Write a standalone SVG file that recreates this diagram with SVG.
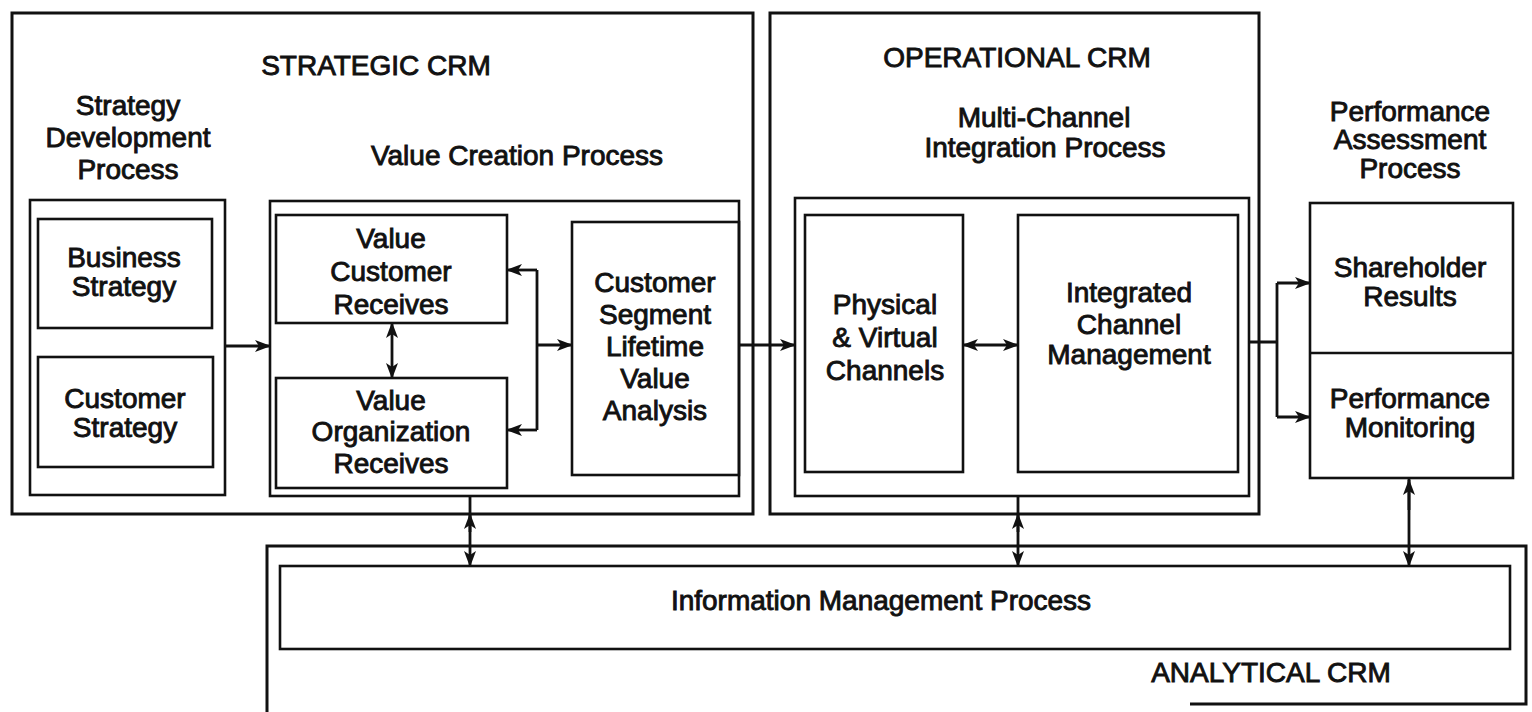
<svg xmlns="http://www.w3.org/2000/svg" width="1532" height="712" viewBox="0 0 1532 712">
  <style>
    .bg { fill: #ffffff; }
    .frame { fill: none; stroke: #111; stroke-width: 3; }
    .box { fill: none; stroke: #111; stroke-width: 2.6; }
    .wire { fill: none; stroke: #111; stroke-width: 2.8; }
    .t { font-family: "Liberation Sans", Arial, Helvetica, sans-serif; font-size: 28px; fill: #111; stroke: #111; stroke-width: 0.9; text-anchor: middle; }
  </style>
  <defs>
    <marker id="head" viewBox="0 0 16 12" refX="15" refY="6" markerWidth="16" markerHeight="12" markerUnits="userSpaceOnUse" orient="auto-start-reverse">
      <path d="M0,0 L16,6 L0,12 L4,6 Z" fill="#111"/>
    </marker>
  </defs>

  <rect class="bg" x="0" y="0" width="1532" height="712"/>

  <!-- Strategic CRM frame -->
  <g id="strategic-crm">
    <rect class="frame" x="12" y="13" width="741" height="501"/>
    <text class="t" x="376" y="75">STRATEGIC CRM</text>
  </g>

  <!-- Strategy development process -->
  <g id="strategy-development">
    <text class="t"><tspan x="128" y="115">Strategy</tspan><tspan x="128" y="147">Development</tspan><tspan x="128" y="179">Process</tspan></text>
    <rect class="box" x="30" y="200" width="195" height="295"/>
  </g>
  <g id="business-strategy">
    <rect class="box" x="38" y="219" width="174" height="109"/>
    <text class="t"><tspan x="124" y="267">Business</tspan><tspan x="124" y="296">Strategy</tspan></text>
  </g>
  <g id="customer-strategy">
    <rect class="box" x="38" y="357" width="175" height="110"/>
    <text class="t"><tspan x="125" y="408">Customer</tspan><tspan x="125" y="437">Strategy</tspan></text>
  </g>

  <!-- Value creation process -->
  <g id="value-creation">
    <text class="t" x="517" y="165">Value Creation Process</text>
    <rect class="box" x="270" y="201" width="469" height="295"/>
  </g>
  <g id="value-customer-receives">
    <rect class="box" x="276" y="215" width="231" height="108"/>
    <text class="t"><tspan x="391" y="248">Value</tspan><tspan x="391" y="281">Customer</tspan><tspan x="391" y="314">Receives</tspan></text>
  </g>
  <g id="value-organization-receives">
    <rect class="box" x="276" y="378" width="231" height="110"/>
    <text class="t"><tspan x="391" y="410">Value</tspan><tspan x="391" y="441">Organization</tspan><tspan x="391" y="473">Receives</tspan></text>
  </g>
  <g id="customer-segment-analysis">
    <rect class="box" x="572" y="222" width="167" height="253"/>
    <text class="t"><tspan x="655" y="292">Customer</tspan><tspan x="655" y="324">Segment</tspan><tspan x="655" y="356">Lifetime</tspan><tspan x="655" y="388">Value</tspan><tspan x="655" y="420">Analysis</tspan></text>
  </g>

  <!-- Operational CRM frame -->
  <g id="operational-crm">
    <rect class="frame" x="770" y="13" width="489" height="501"/>
    <text class="t" x="1017" y="67">OPERATIONAL CRM</text>
  </g>
  <g id="multi-channel">
    <text class="t"><tspan x="1044" y="127">Multi-Channel</tspan><tspan x="1045" y="157">Integration Process</tspan></text>
    <rect class="box" x="795" y="198" width="454" height="298"/>
  </g>
  <g id="physical-virtual-channels">
    <rect class="box" x="805" y="215" width="158" height="257"/>
    <text class="t"><tspan x="885" y="314">Physical</tspan><tspan x="885" y="347">&amp; Virtual</tspan><tspan x="885" y="380">Channels</tspan></text>
  </g>
  <g id="integrated-channel-management">
    <rect class="box" x="1018" y="215" width="220" height="257"/>
    <text class="t"><tspan x="1129" y="302">Integrated</tspan><tspan x="1129" y="334">Channel</tspan><tspan x="1129" y="364">Management</tspan></text>
  </g>

  <!-- Performance assessment process -->
  <g id="performance-assessment">
    <text class="t"><tspan x="1410" y="121">Performance</tspan><tspan x="1410" y="149">Assessment</tspan><tspan x="1410" y="178">Process</tspan></text>
    <rect class="box" x="1310" y="203" width="203" height="275"/>
    <line class="box" x1="1310" y1="353" x2="1513" y2="353"/>
  </g>
  <g id="shareholder-results">
    <text class="t"><tspan x="1410" y="277">Shareholder</tspan><tspan x="1410" y="306">Results</tspan></text>
  </g>
  <g id="performance-monitoring">
    <text class="t"><tspan x="1410" y="408">Performance</tspan><tspan x="1410" y="437">Monitoring</tspan></text>
  </g>

  <!-- Analytical CRM frame and information management -->
  <g id="analytical-crm">
    <path class="frame" d="M267,712 V546 H1526 V704 H1190"/>
    <text class="t" x="1271" y="682">ANALYTICAL CRM</text>
  </g>
  <g id="information-management">
    <rect class="box" x="280" y="566" width="1230" height="83"/>
    <text class="t" x="881" y="610">Information Management Process</text>
  </g>

  <!-- Connectors -->
  <g id="connectors">
    <line class="wire" x1="225" y1="346" x2="270" y2="346" marker-end="url(#head)"/>
    <line class="wire" x1="392" y1="323" x2="392" y2="378" marker-start="url(#head)" marker-end="url(#head)"/>
    <line class="wire" x1="537" y1="270" x2="537" y2="430"/>
    <line class="wire" x1="537" y1="270" x2="507" y2="270" marker-end="url(#head)"/>
    <line class="wire" x1="537" y1="430" x2="507" y2="430" marker-end="url(#head)"/>
    <line class="wire" x1="537" y1="345" x2="572" y2="345" marker-end="url(#head)"/>
    <line class="wire" x1="739" y1="345" x2="795" y2="345" marker-end="url(#head)"/>
    <line class="wire" x1="963" y1="345" x2="1018" y2="345" marker-start="url(#head)" marker-end="url(#head)"/>
    <path class="wire" d="M1249,342 H1277 M1277,283 V417"/>
    <line class="wire" x1="1277" y1="283" x2="1310" y2="283" marker-end="url(#head)"/>
    <line class="wire" x1="1277" y1="417" x2="1310" y2="417" marker-end="url(#head)"/>
    <line class="wire" x1="470" y1="496" x2="470" y2="566" marker-end="url(#head)"/>
    <line class="wire" x1="470" y1="532" x2="470" y2="514" marker-end="url(#head)"/>
    <line class="wire" x1="1018" y1="496" x2="1018" y2="566" marker-end="url(#head)"/>
    <line class="wire" x1="1018" y1="532" x2="1018" y2="514" marker-end="url(#head)"/>
    <line class="wire" x1="1409" y1="478" x2="1409" y2="566" marker-end="url(#head)"/>
    <line class="wire" x1="1409" y1="510" x2="1409" y2="480" marker-end="url(#head)"/>
  </g>
</svg>
